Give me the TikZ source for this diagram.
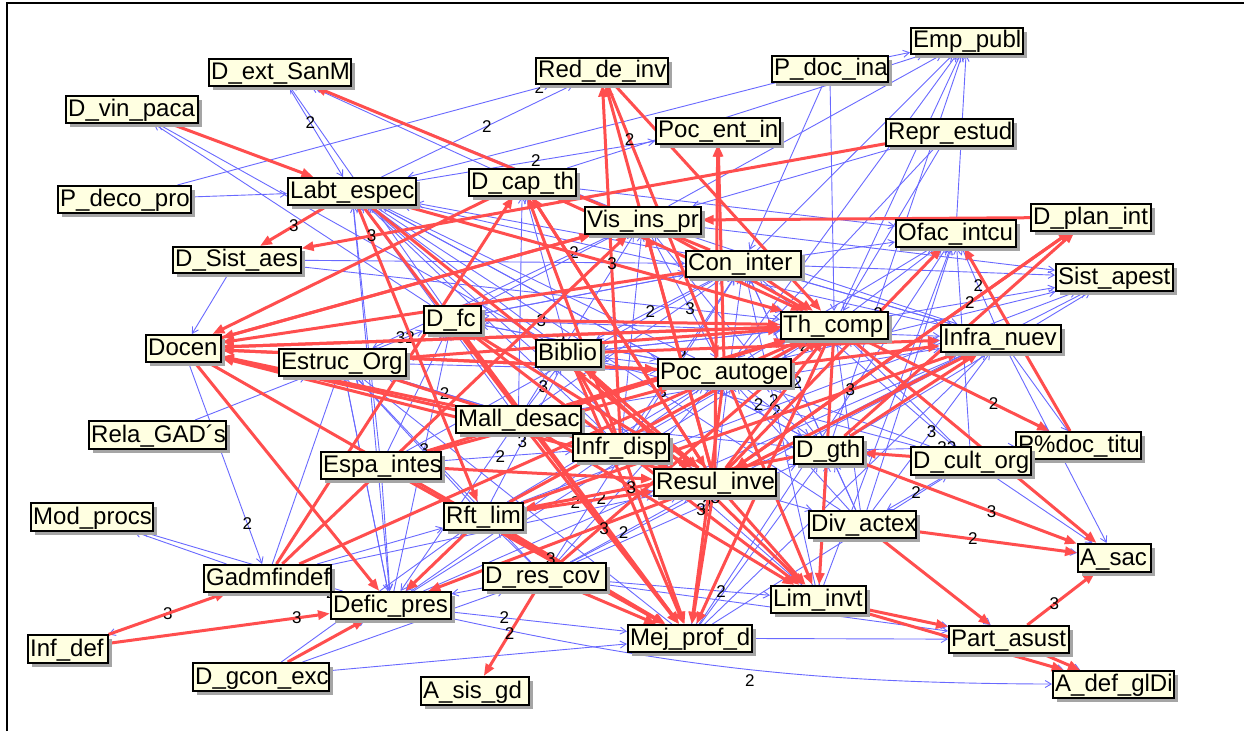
\documentclass[tikz,border=0pt]{standalone}
\usepackage{fontspec}
\setmainfont{Liberation Sans}
\usetikzlibrary{arrows.meta}
\pgfdeclarelayer{back}
\pgfdeclarelayer{bg}
\pgfsetlayers{back,bg,main}
\definecolor{cream}{RGB}{255,255,225}
\definecolor{redl}{RGB}{255,78,78}
\definecolor{bluel}{RGB}{105,105,255}
\definecolor{shad}{RGB}{165,165,165}
\tikzset{
 R/.style={draw=redl, line width=3pt, -{Triangle[length=12pt,width=9pt]}},
 B/.style={draw=bluel, line width=0.9pt, -{Straight Barb[length=6pt,width=7pt]}},
 lab/.style={font=\fontsize{17}{17}\selectfont, text=black, inner sep=1pt},
 box/.style={draw=black, line width=1.6pt, fill=cream, inner sep=0pt, anchor=north west},
}
\newcommand\bx[6]{%
 \fill[shad] (#2+5,#3+5) rectangle (#4+5,#5+5);
 \node[box, minimum width=#4-#2, minimum height=#5-#3] (#1) at (#2,#3) {};
 \begin{scope}
 \clip (#2,#3) rectangle (#4-1,#5);
 \node[anchor=base west, inner sep=0pt, font=\fontsize{24}{24}\selectfont] at (#2+3,#5-6) {#6};
 \end{scope}}
\begin{document}
\begin{tikzpicture}[x=1pt,y=-1pt]
\useasboundingbox (0,0) rectangle (1244,731);
\begin{pgfonlayer}{back}
\fill[white] (0,0) rectangle (1244,731);
\end{pgfonlayer}
\draw[line width=2pt] (7,731) -- (7,3) -- (1244,3);
\bx{dext}{208}{58}{350}{85}{D\_ext\_SanM}
\bx{dvin}{65}{95}{197}{122}{D\_vin\_paca}
\bx{red}{535}{57}{667}{83}{Red\_de\_inv}
\bx{pdoc}{771}{55}{887}{81}{P\_doc\_ina}
\bx{emp}{910}{27}{1022}{53}{Emp\_publ}
\bx{pocent}{655}{117}{779}{143}{Poc\_ent\_in}
\bx{repr}{885}{118}{1012}{145}{Repr\_estud}
\bx{pdeco}{57}{185}{190}{212}{P\_deco\_pro}
\bx{labt}{287}{177}{415}{204}{Labt\_espec}
\bx{dcap}{468}{168}{575}{195}{D\_cap\_th}
\bx{vis}{584}{206}{700}{233}{Vis\_ins\_pr}
\bx{dplan}{1030}{203}{1150}{230}{D\_plan\_int}
\bx{ofac}{895}{219}{1015}{246}{Ofac\_intcu}
\bx{dsist}{172}{246}{300}{272}{D\_Sist\_aes}
\bx{con}{685}{250}{800}{276}{Con\_inter}
\bx{sist}{1055}{263}{1172}{290}{Sist\_apest}
\bx{dfc}{423}{305}{480}{332}{D\_fc}
\bx{th}{780}{311}{887}{338}{Th\_comp}
\bx{infra}{940}{324}{1060}{351}{Infra\_nuev}
\bx{docen}{145}{334}{220}{361}{Docen}
\bx{estruc}{278}{348}{405}{375}{Estruc\_Org}
\bx{biblio}{535}{339}{600}{366}{Biblio}
\bx{pocaut}{657}{358}{790}{385}{Poc\_autoge}
\bx{mall}{455}{405}{580}{432}{Mall\_desac}
\bx{rela}{88}{420}{225}{448}{Rela\_GAD´s}
\bx{infrd}{572}{433}{668}{460}{Infr\_disp}
\bx{pdt}{1015}{431}{1140}{458}{P\%doc\_titu}
\bx{dgth}{793}{436}{862}{463}{D\_gth}
\bx{dcult}{910}{446}{1030}{474}{D\_cult\_org}
\bx{espa}{320}{451}{440}{478}{Espa\_intes}
\bx{resul}{653}{468}{775}{495}{Resul\_inve}
\bx{mod}{30}{502}{152}{530}{Mod\_procs}
\bx{rft}{443}{502}{522}{529}{Rft\_lim}
\bx{div}{808}{510}{915}{537}{Div\_actex}
\bx{asac}{1077}{543}{1150}{571}{A\_sac}
\bx{gadm}{203}{564}{330}{591}{Gadmfindef}
\bx{dres}{482}{562}{605}{589}{D\_res\_cov}
\bx{defic}{330}{591}{450}{618}{Defic\_pres}
\bx{lim}{770}{585}{865}{612}{Lim\_invt}
\bx{mej}{627}{624}{751}{651}{Mej\_prof\_d}
\bx{part}{948}{625}{1068}{652}{Part\_asust}
\bx{infdef}{27}{634}{107}{662}{Inf\_def}
\bx{dgcon}{192}{662}{328}{690}{D\_gcon\_exc}
\bx{asis}{420}{676}{528}{704}{A\_sis\_gd}
\bx{adef}{1052}{670}{1173}{697}{A\_def\_glDi}
\begin{pgfonlayer}{bg}
% blue connectors
\foreach \a/\b in {th/dext,con/dext,dfc/dext,vis/dext,dfc/dvin,biblio/dvin,pdeco/labt,
 pdoc/emp,pdoc/labt,pdoc/th,con/emp,th/emp,vis/emp,ofac/emp,dcap/emp,pocaut/emp,dgth/emp,repr/th,
 con/sist,th/sist,dgth/sist,pocaut/sist,con/ofac,th/ofac,pocaut/ofac,dcult/ofac,
 dsist/docen,rela/estruc,gadm/mod,defic/mod,dgcon/defic,dgcon/dres,dgcon/rft,dgcon/mej,
 rft/defic,dres/defic,espa/defic,estruc/defic,labt/defic,mall/defic,lim/adef,
 div/asac,dcult/asac,infra/asac,lim/part,div/part,mej/part,dres/part,part/adef,
 infra/pdt,th/pdt,dcult/dgth,resul/estruc,resul/labt,resul/dfc,pocaut/labt,pocaut/dfc,
 con/labt,th/labt,th/estruc,vis/estruc,biblio/labt,infrd/labt,mall/labt,espa/labt,espa/dfc,
 rft/labt,rft/estruc,dres/estruc,mall/dcap,biblio/dcap,infrd/vis,resul/con,dgth/con,div/th,
 lim/th,dcult/th,dres/th,rft/th,rft/pocaut,dres/pocaut,defic/pocaut,defic/th,gadm/resul,
 gadm/rft,estruc/pocaut,dfc/con,dsist/con,dsist/th,docen/th,docen/con,labt/infra,labt/dgth,
 vis/infra,con/infra,mall/dgth,rft/dgth,lim/dgth,mej/th,mej/dgth,div/dgth,resul/div,
 repr/pocaut,repr/vis,pdoc/con,dcap/ofac,vis/sist,infrd/th,mall/infra,espa/th,rft/infra,
 dres/dgth,mej/infra,lim/ofac,estruc/th,biblio/th,dfc/infra,resul/sist,mall/con,defic/resul,
 vis/dfc,con/dfc,th/biblio,pocaut/biblio,infrd/dfc,dgth/labt,div/labt,lim/labt,mej/estruc,
 div/pocaut,lim/pocaut,dcult/pocaut,dcult/con,infra/con,dgth/vis,resul/ofac,div/ofac,mej/ofac,
 dres/infra,defic/infra,rft/sist,espa/con,mall/vis,gadm/estruc,defic/estruc,dres/rft,infrd/estruc}
 \draw[B] (\a) -- (\b);
\foreach \a/\b/\l/\p in {dext/labt/2/.4,pdeco/red/2/.97,labt/red/2/.55,labt/pocent/2/.5,
 docen/gadm/2/.8,gadm/infdef/3/.5,defic/gadm/2/.5,infra/ofac/2/.5,dgth/pdt/32/.55,
 defic/mej/2/.3,th/dfc/3/.8,con/biblio/2/.55,mall/resul/3/.25,rft/resul/2/.4,dres/resul/2/.45,
 estruc/infrd/2/.3,dfc/pocaut/3/.45,biblio/infra/2/.6,labt/th/2/.45,vis/pocaut/3/.6,
 espa/infrd/2/.45,dres/lim/2/.7,mej/dcult/3/.6,div/infra/3/.5,dcult/div/2/.5,pocaut/dgth/2/.5,
 estruc/dfc/32/.6,mall/biblio/3/.5,rft/biblio/3/.45,dres/con/3/.6,lim/con/2/.6,div/con/2/.55,
 mej/pocaut/3/.5,dcult/biblio/2/.5,defic/dfc/3/.55,infrd/con/2/.5}
 \draw[B] (\a) -- (\b) node[lab,pos=\p]{\l};
\draw[B] (defic) to[bend right=6] node[lab,pos=.5,below=4pt]{2} (adef);
% red connectors
\foreach \a/\b in {resul/red,infrd/red,red/th,con/dext,dvin/labt,dplan/vis,resul/dplan,dgth/dplan,
 pdt/ofac,vis/docen,con/docen,th/docen,pocaut/docen,resul/docen,infrd/docen,mall/docen,docen/defic,
 gadm/dcap,gadm/th,dgcon/defic,rft/defic,resul/defic,labt/rft,resul/mej,rft/mej,dres/mej,th/mej,
 pocaut/mej,infrd/mej,resul/lim,th/lim,pocaut/lim,lim/part,div/part,part/adef,lim/adef,th/asac,
 dcap/th,vis/th,con/th,dfc/th,resul/biblio,infrd/biblio,resul/infra,dgth/infra,pocaut/infra,
 dcult/dgth,resul/dcap,infrd/dcap,labt/resul,pocaut/pocent,resul/pocent,resul/th,resul/vis,
 espa/resul,estruc/resul,dfc/resul,mall/th,dcap/resul,labt/mej,biblio/mej,espa/mej,docen/th,
 docen/pocaut,infdef/gadm,gadm/vis,docen/vis,dcap/docen,biblio/resul,mall/lim,rft/th,
 estruc/th,espa/th,dres/th,biblio/infra,dfc/mej}
 \draw[R] (\a) -- (\b);
\foreach \a/\b/\l/\p in {repr/dsist/3/.88,infdef/defic/3/.85,dres/asis/2/.5,div/asac/2/.35,
 part/asac/3/.4,th/pdt/2/.7,labt/dsist/3/.5,dgth/asac/3/.6,docen/mej/3/.75,rft/resul/2/.6,
 labt/th/3/.55,dfc/lim/3/.7,resul/ofac/2/.7,dgth/rft/3/.6,red/pocaut/2/.2,dplan/resul/2/.3,
 mall/mej/3/.5,biblio/lim/3/.6,espa/pocaut/2/.4,rft/infra/3/.75}
 \draw[R] (\a) -- (\b) node[lab,pos=\p]{\l};
\end{pgfonlayer}
\end{tikzpicture}
\end{document}
